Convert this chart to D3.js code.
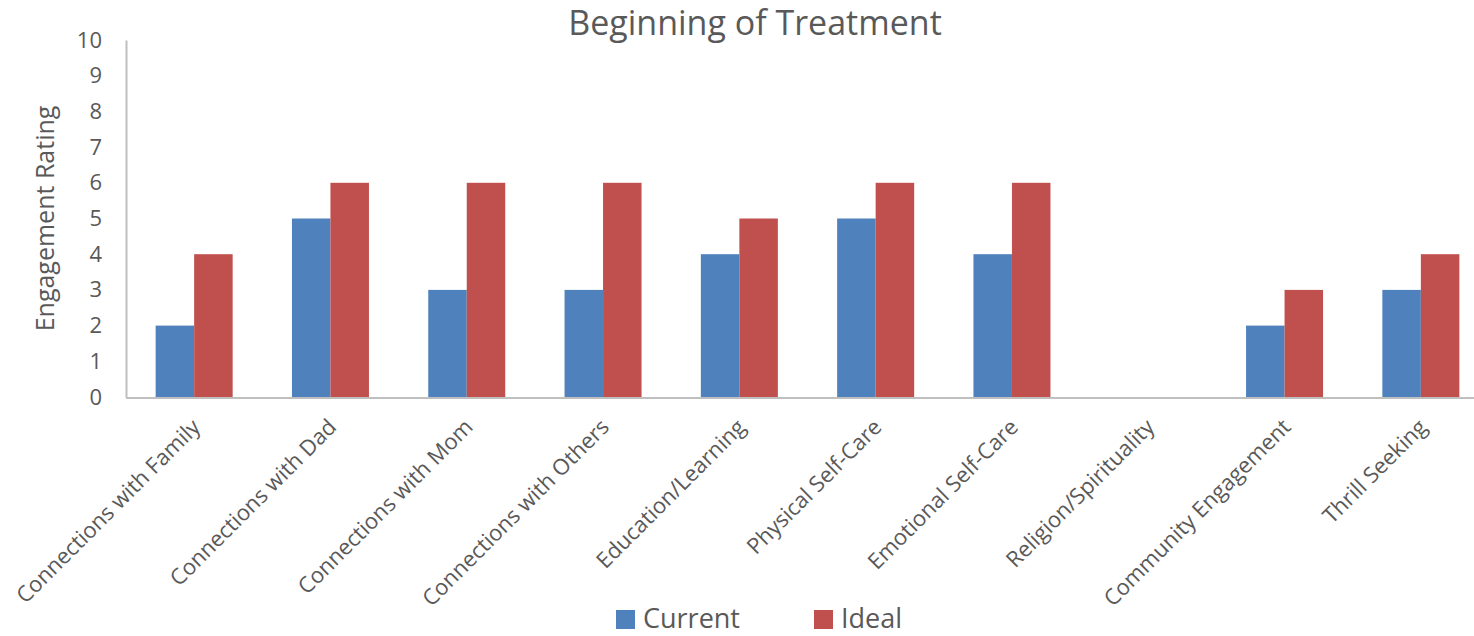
<!DOCTYPE html>
<html>
<head>
<meta charset="utf-8">
<script src="https://cdn.jsdelivr.net/npm/d3@7"></script>
<style>
  body { margin: 0; background: #fff; }
  text { font-family: "Open Sans", sans-serif; fill: #595959; }
</style>
</head>
<body>
<div id="chart"></div>
<script>
// data
const categories = ["Connections with Family", "Connections with Dad", "Connections with Mom",
  "Connections with Others", "Education/Learning", "Physical Self-Care", "Emotional Self-Care",
  "Religion/Spirituality", "Community Engagement", "Thrill Seeking"];
const seriesNames = ["Current", "Ideal"];
const currentValues = [2, 5, 3, 3, 4, 5, 4, 0, 2, 3];
const idealValues = [4, 6, 6, 6, 5, 6, 6, 0, 3, 4];
const yTicks = [0, 1, 2, 3, 4, 5, 6, 7, 8, 9, 10];

const width = 1474, height = 636;
const colors = { Current: "#4f81bd", Ideal: "#c0504d" };

const svg = d3.select("#chart").append("svg")
    .attr("width", width)
    .attr("height", height);

// plot area
const plotLeft = 126, plotTop = 40, plotBottom = 397;
const step = 136.3;

const x = d3.scaleBand()
    .domain(categories)
    .range([plotLeft, plotLeft + step * categories.length])
    .paddingInner(0.435)
    .paddingOuter(0.2175);

const xSub = d3.scaleBand()
    .domain(seriesNames)
    .range([0, x.bandwidth()]);

const y = d3.scaleLinear()
    .domain([0, 10])
    .range([plotBottom, plotTop]);

const rows = categories.map((c, i) => ({ name: c, Current: currentValues[i], Ideal: idealValues[i] }));

// bars
const groups = svg.append("g")
    .selectAll("g")
    .data(rows)
    .join("g")
    .attr("transform", d => `translate(${x(d.name)},0)`);

groups.selectAll("rect")
    .data(d => seriesNames.map(s => ({ key: s, value: d[s] })))
    .join("rect")
    .attr("x", d => xSub(d.key))
    .attr("y", d => y(d.value))
    .attr("width", xSub.bandwidth())
    .attr("height", d => plotBottom - y(d.value))
    .attr("fill", d => colors[d.key]);

// y axis
const yAxis = svg.append("g")
    .attr("transform", `translate(${plotLeft},0)`)
    .call(d3.axisLeft(y).tickValues(yTicks).tickSize(0).tickPadding(24));
yAxis.select(".domain").attr("stroke", "#bfbfbf").attr("stroke-width", 2);
yAxis.selectAll("text").style("font-size", "22px").attr("fill", "#595959");

// x axis line
svg.append("line")
    .attr("x1", plotLeft).attr("x2", width)
    .attr("y1", plotBottom + 1).attr("y2", plotBottom + 1)
    .attr("stroke", "#bfbfbf").attr("stroke-width", 2);

svg.append("g")
    .selectAll("text")
    .data(categories)
    .join("text")
    .attr("transform", d => `translate(${x(d) + x.bandwidth() / 2 + 2},${plotBottom + 26}) rotate(-45)`)
    .attr("text-anchor", "end")
    .attr("dy", "0.35em")
    .style("font-size", "22px")
    .text(d => d);

// title
svg.append("text")
    .attr("x", 755)
    .attr("y", 35)
    .attr("text-anchor", "middle")
    .style("font-size", "34px")
    .text("Beginning of Treatment");

// y axis title
svg.append("text")
    .attr("transform", `translate(54,${(plotTop + plotBottom) / 2}) rotate(-90)`)
    .attr("text-anchor", "middle")
    .style("font-size", "25px")
    .text("Engagement Rating");

// legend
const legendX = [616, 814];
const legend = svg.append("g")
    .selectAll("g")
    .data(seriesNames)
    .join("g")
    .attr("transform", (d, i) => `translate(${legendX[i]},610)`);
legend.append("rect")
    .attr("width", 19).attr("height", 19)
    .attr("fill", d => colors[d]);
legend.append("text")
    .attr("x", 27)
    .attr("y", 18)
    .style("font-size", "27px")
    .text(d => d);
</script>
</body>
</html>
